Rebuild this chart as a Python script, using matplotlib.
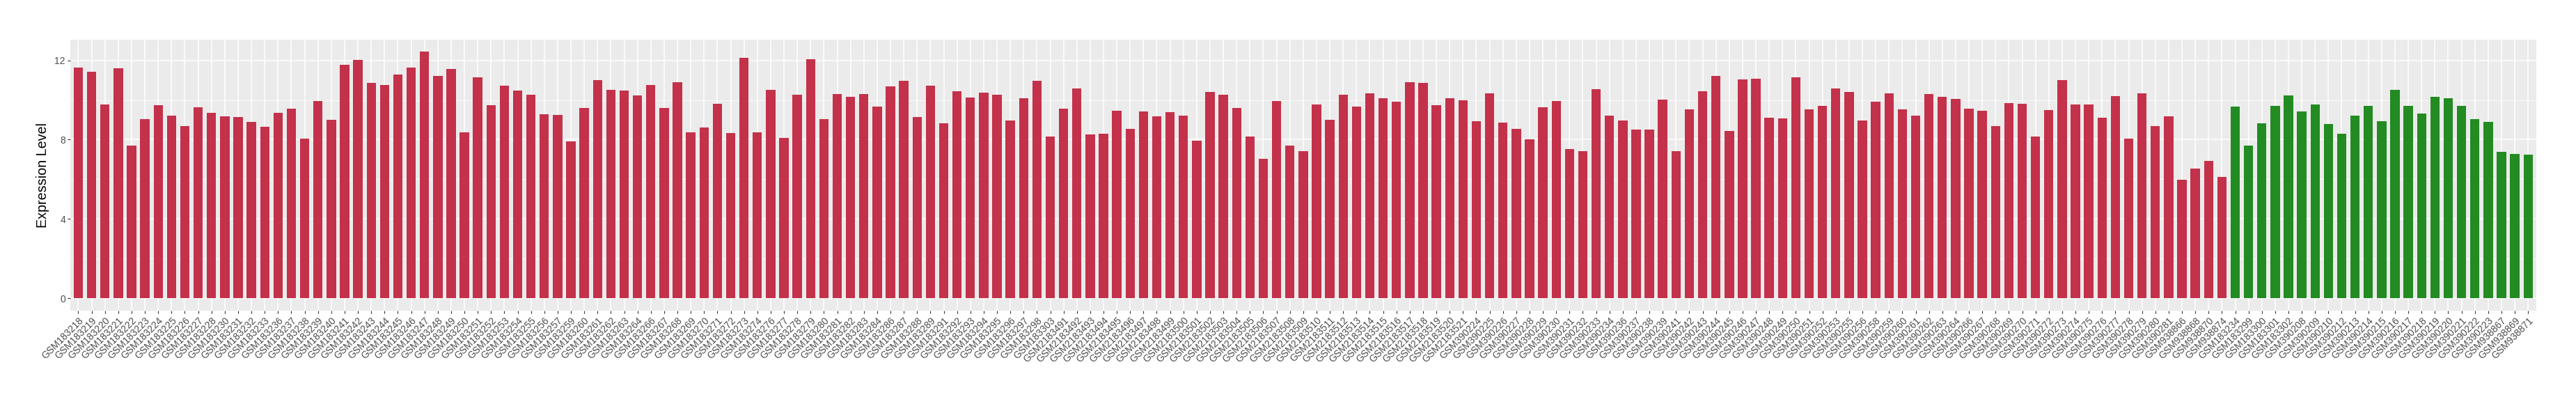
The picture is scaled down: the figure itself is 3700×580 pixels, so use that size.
import matplotlib
matplotlib.use("Agg")
import matplotlib.pyplot as plt
import numpy as np

plt.rcParams['font.family'] = ['Liberation Sans', 'DejaVu Sans']

# tumour samples (red)
tumor_samples = [
    'GSM183218', 'GSM183219', 'GSM183220', 'GSM183221', 'GSM183222', 'GSM183223', 'GSM183224',
    'GSM183225', 'GSM183226', 'GSM183227', 'GSM183228', 'GSM183230', 'GSM183231', 'GSM183232',
    'GSM183233', 'GSM183236', 'GSM183237', 'GSM183238', 'GSM183239', 'GSM183240', 'GSM183241',
    'GSM183242', 'GSM183243', 'GSM183244', 'GSM183245', 'GSM183246', 'GSM183247', 'GSM183248',
    'GSM183249', 'GSM183250', 'GSM183251', 'GSM183252', 'GSM183253', 'GSM183254', 'GSM183255',
    'GSM183256', 'GSM183257', 'GSM183259', 'GSM183260', 'GSM183261', 'GSM183262', 'GSM183263',
    'GSM183264', 'GSM183266', 'GSM183267', 'GSM183268', 'GSM183269', 'GSM183270', 'GSM183271',
    'GSM183272', 'GSM183273', 'GSM183274', 'GSM183276', 'GSM183277', 'GSM183278', 'GSM183279',
    'GSM183280', 'GSM183281', 'GSM183282', 'GSM183283', 'GSM183284', 'GSM183286', 'GSM183287',
    'GSM183288', 'GSM183289', 'GSM183291', 'GSM183292', 'GSM183293', 'GSM183294', 'GSM183295',
    'GSM183296', 'GSM183297', 'GSM183298', 'GSM183303',
    'GSM2183491', 'GSM2183492', 'GSM2183493', 'GSM2183494', 'GSM2183495', 'GSM2183496',
    'GSM2183497', 'GSM2183498', 'GSM2183499', 'GSM2183500', 'GSM2183501', 'GSM2183502',
    'GSM2183503', 'GSM2183504', 'GSM2183505', 'GSM2183506', 'GSM2183507', 'GSM2183508',
    'GSM2183509', 'GSM2183510', 'GSM2183511', 'GSM2183512', 'GSM2183513', 'GSM2183514',
    'GSM2183515', 'GSM2183516', 'GSM2183517', 'GSM2183518', 'GSM2183519', 'GSM2183520',
    'GSM2183521',
    'GSM390224', 'GSM390225', 'GSM390226', 'GSM390227', 'GSM390228', 'GSM390229', 'GSM390230',
    'GSM390231', 'GSM390232', 'GSM390233', 'GSM390234', 'GSM390236', 'GSM390237', 'GSM390238',
    'GSM390239', 'GSM390241', 'GSM390242', 'GSM390243', 'GSM390244', 'GSM390245', 'GSM390246',
    'GSM390247', 'GSM390248', 'GSM390249', 'GSM390250', 'GSM390251', 'GSM390252', 'GSM390253',
    'GSM390255', 'GSM390256', 'GSM390258', 'GSM390259', 'GSM390260', 'GSM390261', 'GSM390262',
    'GSM390263', 'GSM390264', 'GSM390266', 'GSM390267', 'GSM390268', 'GSM390269', 'GSM390270',
    'GSM390271', 'GSM390272', 'GSM390273', 'GSM390274', 'GSM390275', 'GSM390276', 'GSM390277',
    'GSM390278', 'GSM390279', 'GSM390280', 'GSM390281',
    'GSM938866', 'GSM938868', 'GSM938870', 'GSM938874',
]
tumor_values = [
    11.65, 11.44, 9.76, 11.59, 7.70, 9.04, 9.73, 9.20, 8.69, 9.63, 9.35, 9.18, 9.14, 8.89,
    8.65, 9.35, 9.55, 8.05, 9.94, 9.00, 11.77, 12.01, 10.85, 10.74, 11.30, 11.65, 12.43, 11.20,
    11.55, 8.36, 11.13, 9.73, 10.71, 10.47, 10.25, 9.28, 9.24, 7.91, 9.59, 10.99, 10.50, 10.47,
    10.23, 10.74, 9.59, 10.89, 8.36, 8.61, 9.80, 8.34, 12.12, 8.36, 10.50, 8.09, 10.25, 12.04,
    9.04, 10.29, 10.15, 10.29, 9.66, 10.68, 10.95, 9.14, 10.71, 8.82, 10.43, 10.12, 10.36, 10.25,
    8.96, 10.08, 10.95, 8.16,
    9.55, 10.58, 8.26, 8.30, 9.45, 8.54, 9.41, 9.18, 9.39, 9.20, 7.95, 10.39, 10.25, 9.59,
    8.16, 7.04, 9.94, 7.70, 7.42, 9.76, 9.00, 10.25, 9.66, 10.33, 10.08, 9.90, 10.89, 10.85,
    9.73, 10.08, 9.98,
    8.93, 10.33, 8.85, 8.54, 8.01, 9.63, 9.94, 7.52, 7.42, 10.54, 9.20, 8.96, 8.50, 8.50,
    10.01, 7.42, 9.53, 10.43, 11.20, 8.44, 11.03, 11.09, 9.10, 9.06, 11.13, 9.53, 9.70, 10.58,
    10.39, 8.96, 9.90, 10.33, 9.53, 9.20, 10.29, 10.15, 10.05, 9.55, 9.45, 8.69, 9.84, 9.80,
    8.16, 9.49, 10.99, 9.76, 9.76, 9.10, 10.19, 8.05, 10.33, 8.69, 9.18,
    5.99, 6.55, 6.94, 6.10,
]

# normal samples (green)
normal_samples = [
    'GSM183234', 'GSM183299', 'GSM183300', 'GSM183301', 'GSM183302',
    'GSM390208', 'GSM390209', 'GSM390210', 'GSM390212', 'GSM390213', 'GSM390214', 'GSM390215',
    'GSM390216', 'GSM390217', 'GSM390218', 'GSM390219', 'GSM390220', 'GSM390221', 'GSM390222',
    'GSM390223',
    'GSM938867', 'GSM938869', 'GSM938871',
]
normal_values = [
    9.66, 7.70, 8.82, 9.70, 10.23,
    9.41, 9.76, 8.79, 8.30, 9.20, 9.70, 8.93, 10.50, 9.70, 9.31, 10.15, 10.08, 9.70, 9.04,
    8.89,
    7.39, 7.29, 7.25,
]

tumor_color = '#C3314A'
normal_color = '#228B22'

samples = tumor_samples + normal_samples
values = tumor_values + normal_values
colors = [tumor_color] * len(tumor_samples) + [normal_color] * len(normal_samples)
x = np.arange(len(samples))

fig = plt.figure(figsize=(37, 5.8), dpi=100)
ax = fig.add_axes([101 / 3700, 1 - 445.7 / 580, (3642.7 - 101) / 3700, (445.7 - 56.7) / 580])
ax.set_facecolor('#EBEBEB')

ax.bar(x, values, width=0.7, color=colors, zorder=3)

# ggplot-like expansion
ax.set_xlim(-0.6, len(samples) - 1 + 0.6)
ymax = max(values)
ax.set_ylim(-0.05 * ymax, 1.05 * ymax)

ax.set_yticks([0, 4, 8, 12])
ax.set_yticks([2, 6, 10], minor=True)
ax.set_xticks(x)
ax.set_xticklabels(samples, rotation=45, ha='right', rotation_mode='anchor')

ax.grid(True, which='major', color='white', linewidth=1.1, zorder=0)
ax.grid(True, which='minor', axis='y', color='white', linewidth=0.55, zorder=0)
ax.set_axisbelow(True)

for s in ax.spines.values():
    s.set_visible(False)

ax.tick_params(axis='both', which='major', length=3.1, width=0.8, color='#333333',
               labelsize=10, labelcolor='#4D4D4D', pad=2)
ax.tick_params(axis='y', which='minor', length=0)

ax.set_ylabel('Expression Level', fontsize=14.2, color='black', labelpad=5)

fig.savefig('out.png', dpi=100)
